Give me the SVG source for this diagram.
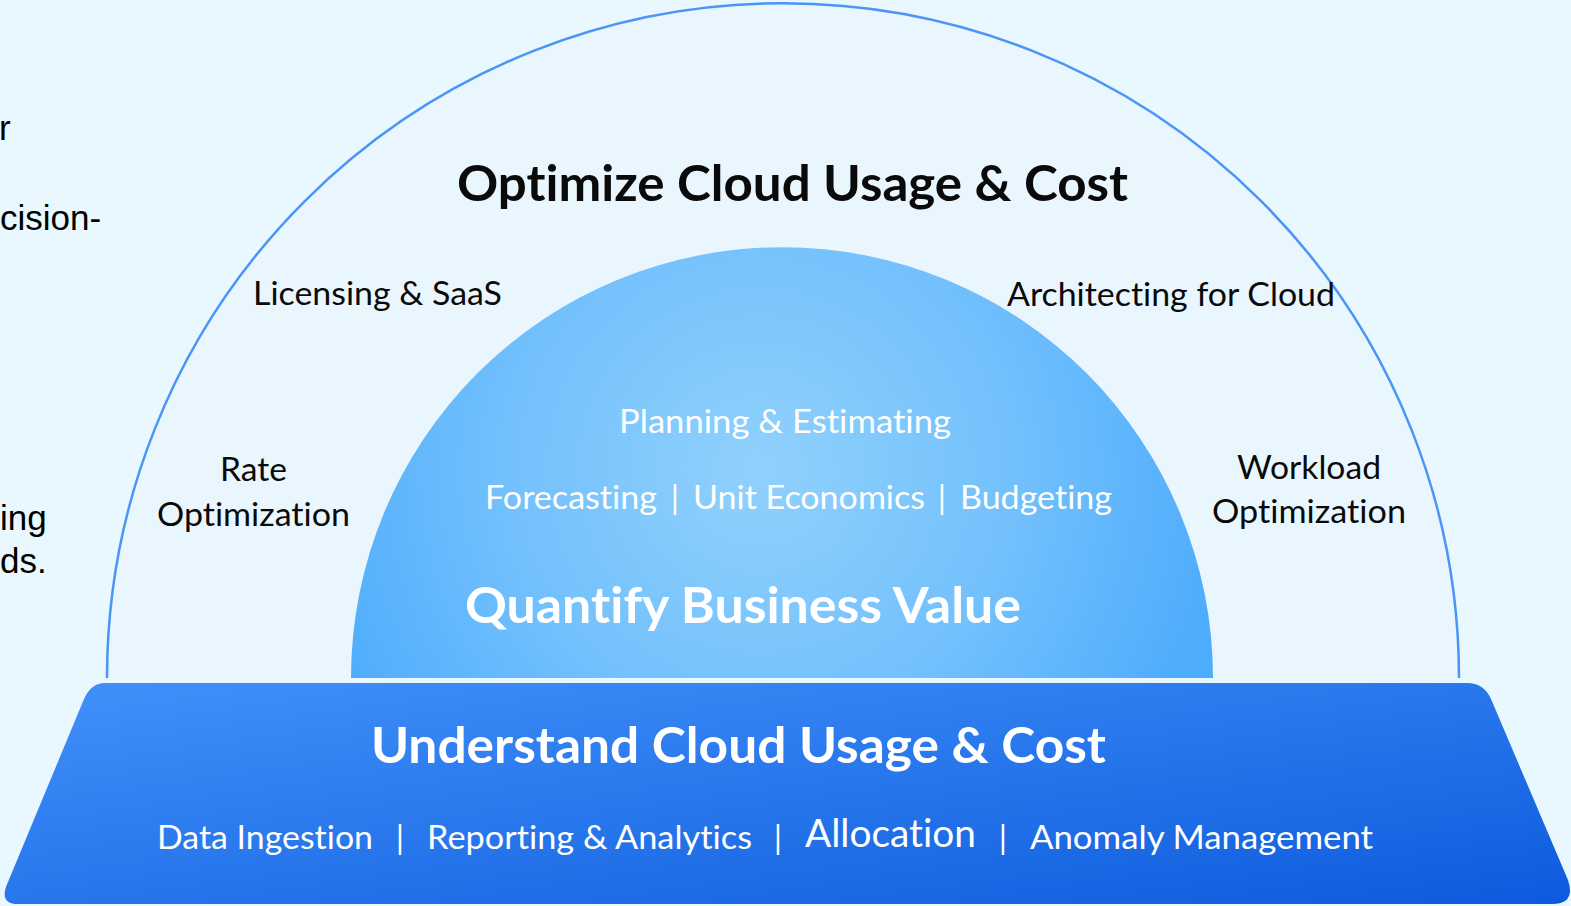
<svg xmlns="http://www.w3.org/2000/svg" width="1571" height="906" viewBox="0 0 1571 906">
<defs>
<linearGradient id="gBase" x1="0" y1="0" x2="1" y2="1">
<stop offset="0" stop-color="#4291fa"/>
<stop offset="1" stop-color="#0d5bdd"/>
</linearGradient>
<radialGradient id="gDome" gradientUnits="userSpaceOnUse" cx="760" cy="470" r="470">
<stop offset="0" stop-color="#90d1fd"/>
<stop offset="0.55" stop-color="#72c0fc"/>
<stop offset="1" stop-color="#4eacfc"/>
</radialGradient>
<style>
.blk{font-family:Lato,"Open Sans","Liberation Sans",sans-serif;fill:#0a0a0a;font-variant-ligatures:none;font-feature-settings:"liga" 0,"dlig" 0}
.wht{font-family:Lato,"Open Sans","Liberation Sans",sans-serif;fill:#ffffff;font-variant-ligatures:none;font-feature-settings:"liga" 0,"dlig" 0}
.bold{font-weight:700}
.lbl{font-size:33px}
.sub{font-size:33px}
.side{font-family:"Liberation Sans",Arial,sans-serif;font-size:35px;fill:#000}
</style>
</defs>
<rect width="1571" height="906" fill="#e8f8fe"/>
<g id="left-text">
<text class="side" x="-1" y="140">r</text>
<text class="side" x="0" y="230">cision-</text>
<text class="side" x="0" y="530">ing</text>
<text class="side" x="0" y="573">ds.</text>
</g>
<g id="optimize">
<path d="M107,678 A676,675 0 0 1 1459,678" fill="#eaf6fe" stroke="#4a95f6" stroke-width="2.5"/>
<text class="blk bold" x="792.5" y="201" font-size="49" text-anchor="middle" textLength="671" lengthAdjust="spacingAndGlyphs">Optimize Cloud Usage &amp; Cost</text>
<text class="blk lbl" x="253" y="305" textLength="249" lengthAdjust="spacingAndGlyphs">Licensing &amp; SaaS</text>
<text class="blk lbl" x="1007" y="306" textLength="328" lengthAdjust="spacingAndGlyphs">Architecting for Cloud</text>
<text class="blk lbl" x="220" y="481" textLength="67" lengthAdjust="spacingAndGlyphs">Rate</text>
<text class="blk lbl" x="157" y="526" textLength="193" lengthAdjust="spacingAndGlyphs">Optimization</text>
<text class="blk lbl" x="1237" y="479" textLength="144" lengthAdjust="spacingAndGlyphs">Workload</text>
<text class="blk lbl" x="1212" y="523" textLength="194" lengthAdjust="spacingAndGlyphs">Optimization</text>
</g>
<g id="quantify">
<path d="M351,678 A431,431 0 0 1 1213,678 Z" fill="url(#gDome)"/>
<text class="wht sub" x="619" y="433" textLength="332" lengthAdjust="spacingAndGlyphs">Planning &amp; Estimating</text>
<text class="wht sub" x="485" y="509" textLength="172" lengthAdjust="spacingAndGlyphs">Forecasting</text>
<text class="wht sub" x="675" y="509" text-anchor="middle">|</text>
<text class="wht sub" x="693" y="509" textLength="232" lengthAdjust="spacingAndGlyphs">Unit Economics</text>
<text class="wht sub" x="942" y="509" text-anchor="middle">|</text>
<text class="wht sub" x="960" y="509" textLength="152" lengthAdjust="spacingAndGlyphs">Budgeting</text>
<text class="wht bold" x="465" y="623" font-size="49" textLength="556" lengthAdjust="spacingAndGlyphs">Quantify Business Value</text>
</g>
<g id="understand">
<path d="M105,683 L1467,683 Q1484,683 1491,699 L1568,880 Q1576,904 1552,904 L18,904 Q-2,904 8,882 L84,699 Q91,683 105,683 Z" fill="url(#gBase)"/>
<text class="wht bold" x="371" y="763" font-size="49" textLength="735" lengthAdjust="spacingAndGlyphs">Understand Cloud Usage &amp; Cost</text>
<text class="wht sub" x="157" y="849" textLength="216" lengthAdjust="spacingAndGlyphs">Data Ingestion</text>
<text class="wht sub" x="400" y="849" text-anchor="middle">|</text>
<text class="wht sub" x="427" y="849" textLength="325" lengthAdjust="spacingAndGlyphs">Reporting &amp; Analytics</text>
<text class="wht sub" x="778" y="849" text-anchor="middle">|</text>
<text class="wht" x="805" y="847" font-size="38" textLength="171" lengthAdjust="spacingAndGlyphs">Allocation</text>
<text class="wht sub" x="1003" y="849" text-anchor="middle">|</text>
<text class="wht sub" x="1030" y="849" textLength="343" lengthAdjust="spacingAndGlyphs">Anomaly Management</text>
</g>
<g id="connectors"/>
</svg>
